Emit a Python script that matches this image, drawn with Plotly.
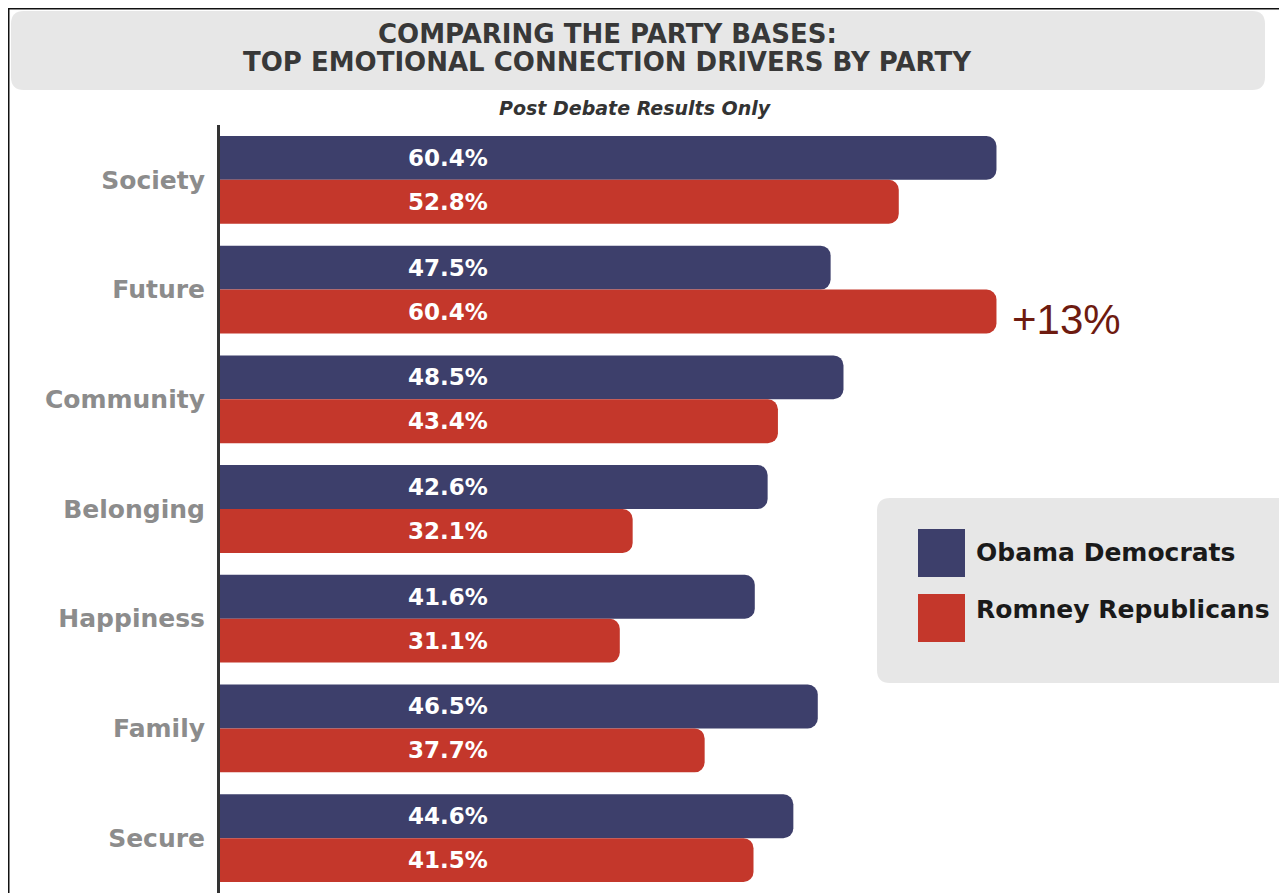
import plotly.graph_objects as go

# ---- data ----
categories = ["Society", "Future", "Community", "Belonging", "Happiness", "Family", "Secure"]
obama_democrats = [60.4, 47.5, 48.5, 42.6, 41.6, 46.5, 44.6]
romney_republicans = [52.8, 60.4, 43.4, 32.1, 31.1, 37.7, 41.5]
series_names = ["Obama Democrats", "Romney Republicans"]
title_lines = ["COMPARING THE PARTY BASES:", "TOP EMOTIONAL CONNECTION DRIVERS BY PARTY"]
subtitle = "Post Debate Results Only"
callout = "+13%"

# ---- style ----
OFF = 8  # page body margin
W, H = 1287, 893 - OFF
ML, MR, MT, MB = 220 - OFF, OFF, 125 - OFF, 0
PW, PH = W - ML - MR, H - MT - MB
BLUE = "#3d3f6b"
RED = "#c4372b"
FONT = "DejaVu Sans"
X_MAX = 83.0


def px(x):
    """page pixel x -> paper coordinate"""
    return (x - OFF - ML) / PW


def py(y):
    """page pixel y -> paper coordinate"""
    return 1 - (y - OFF - MT) / PH


def rounded_rect(x0, y0, x1, y1, r):
    rx, ry = r / PW, r / PH
    a, b, c, d = px(x0), py(y0), px(x1), py(y1)
    return (f"M {a+rx},{b} L {c-rx},{b} Q {c},{b} {c},{b-ry} "
            f"L {c},{d+ry} Q {c},{d} {c-rx},{d} L {a+rx},{d} Q {a},{d} {a},{d+ry} "
            f"L {a},{b-ry} Q {a},{b} {a+rx},{b} Z")


fig = go.Figure()
fig.add_trace(go.Bar(y=categories, x=obama_democrats, orientation="h", name=series_names[0],
                     marker=dict(color=BLUE, cornerradius=10, line=dict(width=0)),
                     showlegend=False, hoverinfo="x+y"))
fig.add_trace(go.Bar(y=categories, x=romney_republicans, orientation="h", name=series_names[1],
                     marker=dict(color=RED, cornerradius=10, line=dict(width=0)),
                     showlegend=False, hoverinfo="x+y"))

shapes = []
annotations = []

# frame lines
shapes.append(dict(type="line", xref="paper", yref="paper", x0=px(8.75), x1=px(8.75), y0=py(8), y1=py(900),
                   line=dict(color="#111111", width=1.5), layer="above"))
shapes.append(dict(type="line", xref="paper", yref="paper", x0=px(8), x1=px(1300), y0=py(8.75), y1=py(8.75),
                   line=dict(color="#111111", width=1.5), layer="above"))

# title box
shapes.append(dict(type="path", xref="paper", yref="paper", path=rounded_rect(11, 11, 1265, 90, 13),
                   fillcolor="#e7e7e7", line=dict(width=0), layer="below"))
annotations.append(dict(xref="paper", yref="paper", x=px(607), y=py(34), text=title_lines[0],
                        showarrow=False, xanchor="center", yanchor="middle",
                        font=dict(family=FONT, size=26, color="#383838", weight="bold")))
annotations.append(dict(xref="paper", yref="paper", x=px(607), y=py(62), text=title_lines[1],
                        showarrow=False, xanchor="center", yanchor="middle",
                        font=dict(family=FONT, size=26, color="#383838", weight="bold")))
annotations.append(dict(xref="paper", yref="paper", x=px(635), y=py(108), text=subtitle,
                        showarrow=False, xanchor="center", yanchor="middle",
                        font=dict(family=FONT, size=19, color="#333333", weight="bold", style="italic")))

# value labels inside bars
LABEL_X = px(448)
for cat, v in zip(categories, obama_democrats):
    annotations.append(dict(xref="paper", yref="y", x=LABEL_X, y=cat, yshift=22, text=f"{v:.1f}%",
                            showarrow=False, xanchor="center", yanchor="middle",
                            font=dict(family=FONT, size=23, color="white", weight="bold")))
for cat, v in zip(categories, romney_republicans):
    annotations.append(dict(xref="paper", yref="y", x=LABEL_X, y=cat, yshift=-22, text=f"{v:.1f}%",
                            showarrow=False, xanchor="center", yanchor="middle",
                            font=dict(family=FONT, size=23, color="white", weight="bold")))

# callout
annotations.append(dict(xref="x", yref="y", x=romney_republicans[1], y=categories[1], yshift=-30,
                        xshift=14, text=callout, showarrow=False, xanchor="left", yanchor="middle",
                        font=dict(family="Liberation Sans", size=42, color="#6e1b10")))

# legend box
shapes.append(dict(type="path", xref="paper", yref="paper", path=rounded_rect(877, 498, 1310, 683, 13),
                   fillcolor="#e7e7e7", line=dict(width=0), layer="below"))
for i, (name, col) in enumerate(zip(series_names, [BLUE, RED])):
    y0 = 529 + i * 65
    shapes.append(dict(type="rect", xref="paper", yref="paper", x0=px(918), x1=px(965),
                       y0=py(y0), y1=py(y0 + 48), fillcolor=col, line=dict(width=0), layer="above"))
    annotations.append(dict(xref="paper", yref="paper", x=px(974), y=py(552 + i * 57), text=name,
                            showarrow=False, xanchor="left", yanchor="middle",
                            font=dict(family=FONT, size=25, color="#1a1a1a", weight="bold")))

fig.update_layout(
    width=W, height=H,
    margin=dict(l=ML, r=MR, t=MT, b=MB, autoexpand=False),
    paper_bgcolor="white", plot_bgcolor="white",
    barmode="group", bargap=0.2, bargroupgap=0.0,
    shapes=shapes, annotations=annotations,
    showlegend=False,
    xaxis=dict(range=[0, X_MAX], visible=False, showgrid=False, zeroline=False),
    yaxis=dict(autorange="reversed", showline=True, linecolor="#333333", linewidth=3,
               ticks="outside", ticklen=7, tickcolor="rgba(0,0,0,0)", showgrid=False,
               tickfont=dict(family=FONT, size=25, color="#8c8c8c", weight="bold")),
)

fig.write_html("out.html")
